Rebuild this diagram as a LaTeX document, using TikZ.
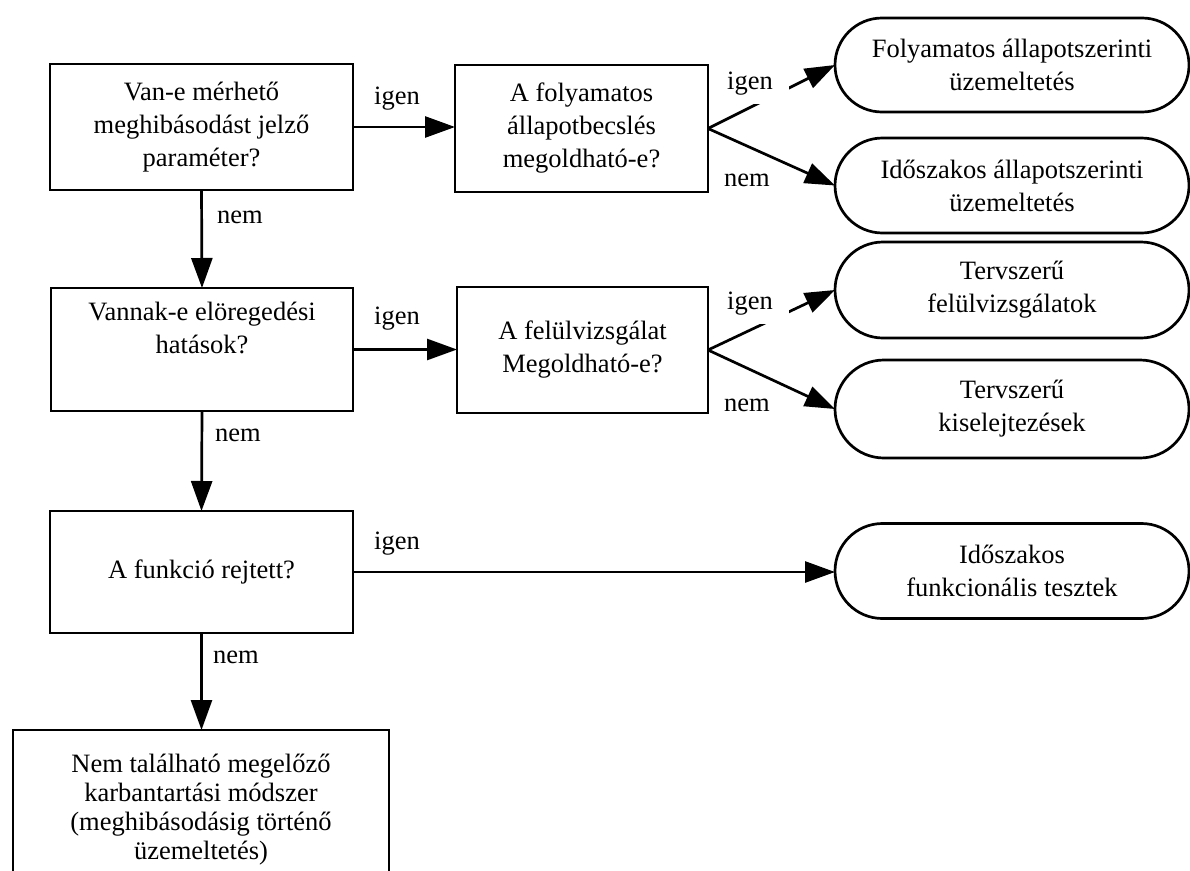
\documentclass[tikz,border=0pt]{standalone}
\usepackage{fontspec}
\setmainfont{Liberation Serif}
\usetikzlibrary{arrows.meta,shapes.misc}
\begin{document}
\begin{tikzpicture}[x=1pt,y=-1pt,
  txt/.style={font=\fontsize{26.5}{33}\selectfont},
  box/.style={txt,draw,line width=2.7pt,rectangle,align=center,inner sep=0pt,outer sep=0pt},
  term/.style={txt,draw,line width=2.7pt,rounded rectangle,align=center,inner sep=0pt,outer sep=0pt,minimum width=354pt},
  arr/.style={line width=2.7pt,-{Triangle[length=30pt,width=21pt]}},
  lbl/.style={txt,anchor=base,inner sep=0pt},
  lblw/.style={lbl,fill=white,inner xsep=16pt,inner ysep=9pt}]
\useasboundingbox (0,0) rectangle (1190,870);
\clip (0,0) rectangle (1190,870);

\node[box,minimum width=303pt,minimum height=126pt] (b1) at (201.5,127) {Van-e mérhető\\meghibásodást jelző\\paraméter?};
\node[box,minimum width=253pt,minimum height=127pt] (b2) at (581.5,128.5) {A folyamatos\\állapotbecslés\\megoldható-e?};
\node[box,minimum width=302pt,minimum height=123pt] (b3) at (202,349.5) {Vannak-e elöregedési\\hatások?\\\strut};
\node[box,minimum width=251pt,minimum height=126pt] (b4) at (582.5,350) {A felülvizsgálat\\Megoldható-e?};
\node[box,minimum width=303pt,minimum height=122pt] (b5) at (201.5,572) {A funkció rejtett?};
\node[box,minimum width=376pt,minimum height=160pt,font=\fontsize{26.5}{29}\selectfont] (b6) at (201,810) {Nem található megelőző\\karbantartási módszer\\(meghibásodásig történő\\üzemeltetés)};

\node[term,minimum height=94pt] (t1) at (1012,65) {Folyamatos állapotszerinti\\üzemeltetés};
\node[term,minimum height=95pt] (t2) at (1012,185.5) {Időszakos állapotszerinti\\üzemeltetés};
\node[term,minimum height=96pt] (t3) at (1012,290) {Tervszerű\\felülvizsgálatok};
\node[term,minimum height=98pt] (t4) at (1012,409) {Tervszerű\\kiselejtezések};
\node[term,minimum height=95pt] (t5) at (1012,571) {Időszakos\\funkcionális tesztek};

\draw[arr] (b1.east) -- (b1.east -| b2.west);
\draw[arr] (b1.south) -- (b3.north);
\draw[arr] (b3.east) -- (b3.east -| b4.west);
\draw[arr] (b3.south) -- (b5.north);
\draw[arr] (b5.east) -- (b5.east -| t5.west);
\draw[arr] (b5.south) -- (b5.south |- b6.north);
\draw[arr] (b2.east) -- (t1.west);
\draw[arr] (b2.east) -- (t2.west);
\draw[arr] (b4.east) -- (t3.west);
\draw[arr] (b4.east) -- (t4.west);

\node[lbl] (l1) at (397,104) {igen};
\node[lbl] (l2) at (240,223) {nem};
\node[lbl] (l3) at (397,324) {igen};
\node[lbl] (l4) at (238,441) {nem};
\node[lbl] (l5) at (397,549) {igen};
\node[lbl] (l6) at (236,663) {nem};
\node[lblw] (l7) at (750,89) {igen};
\node[lbl] (l8) at (747,186) {nem};
\node[lblw] (l9) at (750,309) {igen};
\node[lbl] (l10) at (747,411) {nem};
\end{tikzpicture}
\end{document}
